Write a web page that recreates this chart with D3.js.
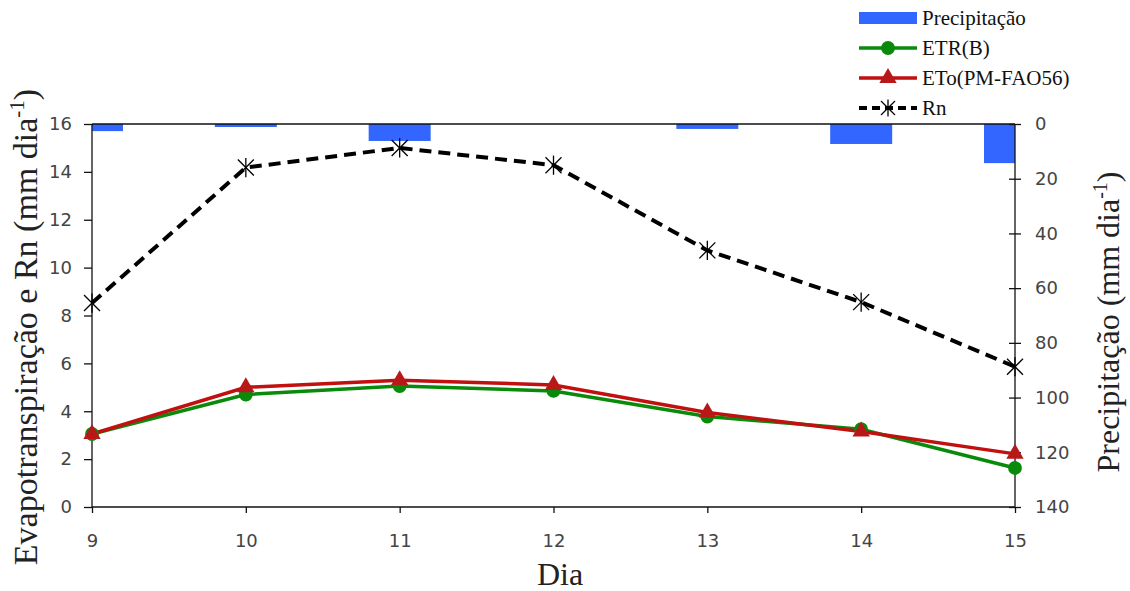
<!DOCTYPE html>
<html><head><meta charset="utf-8">
<script src="https://cdn.jsdelivr.net/npm/d3@7"></script>
<style>body{margin:0;background:#fff}svg{display:block}</style>
</head><body><svg id="c" width="1130" height="591"></svg>
<script>
const days = [9, 10, 11, 12, 13, 14, 15];
const precip = [2.6, 1.1, 6.2, 0, 1.8, 7.3, 14.3];
const etr = [3.05, 4.7, 5.05, 4.85, 3.78, 3.25, 1.63];
const eto = [3.05, 5.0, 5.3, 5.1, 3.95, 3.15, 2.22];
const rn = [8.52, 14.18, 15.0, 14.28, 10.72, 8.56, 5.86];
const leftTicks = [0, 2, 4, 6, 8, 10, 12, 14, 16];
const rightTicks = [0, 20, 40, 60, 80, 100, 120, 140];
const legendLabels = ["Precipitação", "ETR(B)", "ETo(PM-FAO56)", "Rn"];

const svg = d3.select("#c");
const L = 92, R = 1015, T = 124, B = 507;
const x = d3.scaleLinear().domain([9, 15]).range([L, R]);
const y = d3.scaleLinear().domain([0, 16]).range([B, T]);
const y2 = d3.scaleLinear().domain([0, 140]).range([T, B]);
const tickFont = "'DejaVu Sans', Verdana, sans-serif";
const serif = "'Liberation Serif', 'Times New Roman', serif";

svg.append("defs").append("clipPath").attr("id", "pc")
  .append("rect").attr("x", L).attr("y", T).attr("width", R - L).attr("height", B - T);

// bars
const bw = 62;
svg.append("g").attr("clip-path", "url(#pc)").selectAll("rect").data(days).join("rect")
  .attr("x", (d) => x(d) - bw / 2).attr("width", bw)
  .attr("y", y2(0)).attr("height", (d, i) => y2(precip[i]) - y2(0))
  .attr("fill", "#3366ff");

// axes
const gl = svg.append("g").attr("transform", `translate(${L},0)`)
  .call(d3.axisLeft(y).tickValues(leftTicks).tickSize(8).tickPadding(12));
const gr = svg.append("g").attr("transform", `translate(${R},0)`)
  .call(d3.axisRight(y2).tickValues(rightTicks).tickSize(6).tickPadding(14));
gr.selectAll(".tick line").attr("x1", -6).attr("x2", 6);
const gb = svg.append("g").attr("transform", `translate(0,${B})`)
  .call(d3.axisBottom(x).tickValues(days).tickFormat(d3.format("d")).tickSize(6).tickPadding(21));
[gl, gr, gb].forEach(g => {
  g.selectAll(".domain").attr("stroke", "#111").attr("stroke-width", 1.3);
  g.selectAll(".tick line").attr("stroke", "#111").attr("stroke-width", 1.3);
  g.selectAll("text").attr("font-family", tickFont).attr("font-size", 18).attr("fill", "#444");
});
gl.select(".domain").attr("d", `M0,${B}V${T}`);
gr.select(".domain").attr("d", `M0,${B}V${T}`);
gb.select(".domain").attr("d", `M${L},0H${R}`);
svg.append("line").attr("x1", L).attr("x2", R).attr("y1", T).attr("y2", T)
  .attr("stroke", "#111").attr("stroke-width", 1.3);

// lines
const line = (arr, sc) => d3.line().x((d, i) => x(days[i])).y(d => sc(d))(arr);
svg.append("path").attr("d", line(etr, y)).attr("fill", "none").attr("stroke", "#0a8a0a").attr("stroke-width", 3.5);
svg.append("path").attr("d", line(eto, y)).attr("fill", "none").attr("stroke", "#c01010").attr("stroke-width", 3.5);
svg.append("path").attr("d", line(rn, y)).attr("fill", "none").attr("stroke", "#000").attr("stroke-width", 4).attr("stroke-dasharray", "12,7");

const circ = d3.symbol().type(d3.symbolCircle).size(150);
const tri = d3.symbol().type(d3.symbolTriangle).size(130);
svg.append("g").selectAll("path").data(etr).join("path")
  .attr("transform", (d, i) => `translate(${x(days[i])},${y(d)})`).attr("d", circ).attr("fill", "#0a8a0a");
svg.append("g").selectAll("path").data(eto).join("path")
  .attr("transform", (d, i) => `translate(${x(days[i])},${y(d)})`).attr("d", tri).attr("fill", "#b81818");
function star(g, cx, cy, r) {
  const s = g.append("g").attr("transform", `translate(${cx},${cy})`).attr("stroke", "#000").attr("stroke-width", 1.3);
  [[-r, -r, r, r], [-r, r, r, -r], [0, -r * 1.2, 0, r * 1.2]].forEach(a =>
    s.append("line").attr("x1", a[0]).attr("y1", a[1]).attr("x2", a[2]).attr("y2", a[3]));
}
const sg = svg.append("g");
rn.forEach((d, i) => star(sg, x(days[i]), y(d), 8));

// titles
svg.append("text").attr("transform", `translate(37,327) rotate(-90)`)
  .attr("text-anchor", "middle").attr("font-family", serif).attr("font-size", 34).attr("fill", "#222")
  .call(t => { t.append("tspan").text("Evapotranspiração e Rn  (mm dia");
    t.append("tspan").attr("font-size", 21).attr("dy", -13).text("-1");
    t.append("tspan").attr("dy", 13).text(")"); });
svg.append("text").attr("transform", `translate(1119,322) rotate(-90)`)
  .attr("text-anchor", "middle").attr("font-family", serif).attr("font-size", 32).attr("fill", "#222")
  .call(t => { t.append("tspan").text("Precipitação (mm dia");
    t.append("tspan").attr("font-size", 20).attr("dy", -12).text("-1");
    t.append("tspan").attr("dy", 12).text(")"); });
svg.append("text").attr("x", 560).attr("y", 585).attr("text-anchor", "middle")
  .attr("font-family", serif).attr("font-size", 32).attr("fill", "#222").text("Dia");

// legend
const lg = svg.append("g");
const ly = [18, 48, 78, 108];
const lx0 = 859, lx1 = 917;
lg.append("rect").attr("x", lx0).attr("y", ly[0] - 6).attr("width", lx1 - lx0).attr("height", 12).attr("fill", "#3366ff");
lg.append("line").attr("x1", lx0).attr("x2", lx1).attr("y1", ly[1]).attr("y2", ly[1]).attr("stroke", "#0a8a0a").attr("stroke-width", 3.5);
lg.append("path").attr("transform", `translate(${(lx0 + lx1) / 2},${ly[1]})`).attr("d", circ).attr("fill", "#0a8a0a");
lg.append("line").attr("x1", lx0).attr("x2", lx1).attr("y1", ly[2]).attr("y2", ly[2]).attr("stroke", "#c01010").attr("stroke-width", 3.5);
lg.append("path").attr("transform", `translate(${(lx0 + lx1) / 2},${ly[2]})`).attr("d", tri).attr("fill", "#b81818");
lg.append("line").attr("x1", lx0).attr("x2", lx1).attr("y1", ly[3]).attr("y2", ly[3]).attr("stroke", "#000").attr("stroke-width", 4).attr("stroke-dasharray", "8,5");
star(lg, (lx0 + lx1) / 2, ly[3], 7);
lg.selectAll("text.l").data(legendLabels).join("text").attr("class", "l")
  .attr("x", 922).attr("y", (d, i) => ly[i] + 7)
  .attr("font-family", serif).attr("font-size", 21).attr("fill", "#111").text(d => d);
</script></body></html>
